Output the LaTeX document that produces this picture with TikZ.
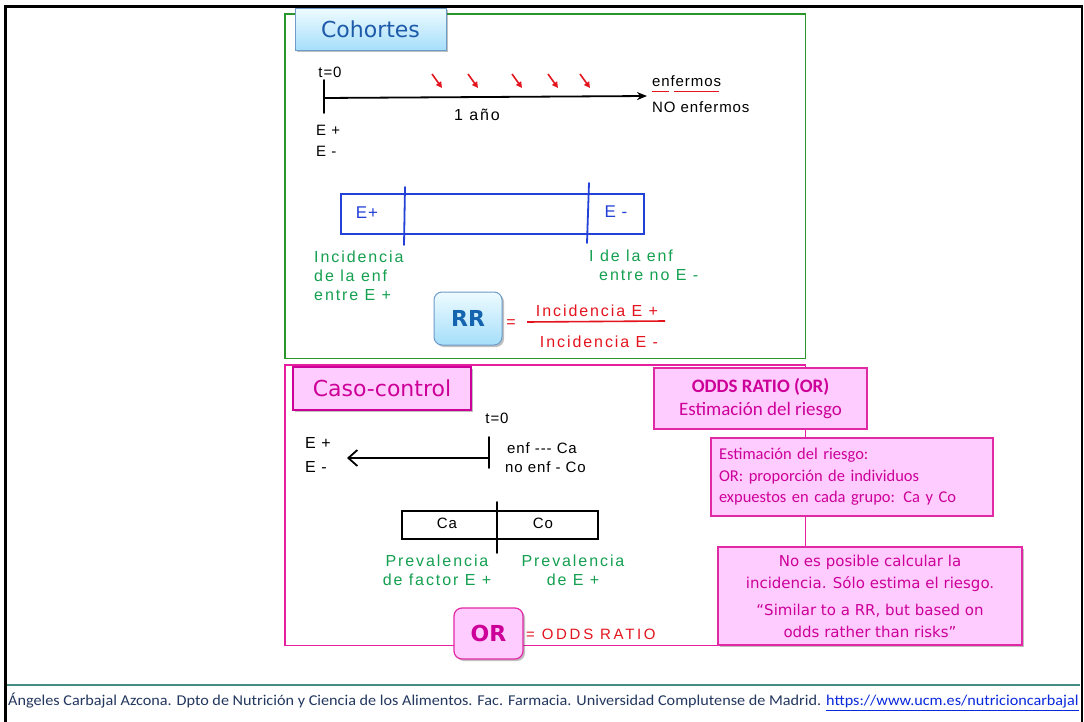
\documentclass[tikz,border=0pt]{standalone}
\usepackage{fontspec}
\setmainfont{Carlito}
\newfontfamily\comic{DejaVu Sans}
\newfontfamily\hand[LetterSpace=6]{Liberation Sans}
\newfontfamily\handg[LetterSpace=12]{Liberation Sans}
\newfontfamily\handw[LetterSpace=18]{Liberation Sans}
\usetikzlibrary{shadows,arrows.meta}
\definecolor{frgreen}{RGB}{40,150,40}
\definecolor{cobord}{RGB}{110,155,200}
\definecolor{cotext}{RGB}{30,90,170}
\definecolor{cotop}{RGB}{238,251,255}
\definecolor{cobot}{RGB}{165,222,250}
\definecolor{rrtext}{RGB}{20,100,175}
\definecolor{mag}{RGB}{204,0,153}
\definecolor{magline}{RGB}{225,40,165}
\definecolor{panelpink}{RGB}{230,30,160}
\definecolor{pinkfill}{RGB}{255,204,255}
\definecolor{hblue}{RGB}{35,65,215}
\definecolor{hgreen}{RGB}{20,160,80}
\definecolor{hred}{RGB}{228,20,30}
\definecolor{tealline}{RGB}{70,140,130}
\definecolor{foot}{RGB}{35,55,95}
\definecolor{linkc}{RGB}{10,40,220}
\begin{document}
\begin{tikzpicture}[x=1pt,y=-1pt,
  panel/.style={anchor=north west, inner sep=0pt},
  shad/.style={drop shadow={shadow xshift=2pt,shadow yshift=-2pt,opacity=0.35,fill=black!70}},
  bluebox/.style={draw=cobord, line width=1pt, top color=cotop, bottom color=cobot, shad, inner sep=0pt},
  pinkbox/.style={draw=magline, line width=1.2pt, fill=pinkfill, inner sep=0pt},
  hw/.style={font=\hand\fontsize{15}{17}\selectfont, inner sep=0pt},
  hwg/.style={inner sep=0pt, text=hgreen, font=\handg\fontsize{16}{19}\selectfont},
  hwr/.style={inner sep=0pt, text=hred, font=\handg\fontsize{16}{18}\selectfont},
  pen/.style={line width=1.8pt, line cap=round},
]
\useasboundingbox (0,0) rectangle (1084,722);
\fill[white] (0,0) rectangle (1084,722);
% outer frame
\draw[line width=3pt] (5.5,722) -- (5.5,6.5) -- (1082,6.5);
\draw[line width=2.5pt] (1081.8,5) -- (1081.8,722);
% footer
\coordinate (fl) at (7,685);
\coordinate (fr) at (1080,685);
\draw[tealline, line width=1.2pt] (fl) -- (fr);
\node[anchor=west, inner sep=0pt, text=foot, font=\fontsize{15}{17}\selectfont] (footer) at (8,702)
  {\scalebox{1.08}[1]{Ángeles Carbajal Azcona. Dpto de Nutrición y Ciencia de los Alimentos. Fac. Farmacia. Universidad Complutense de Madrid. \textcolor{linkc}{\underline{https://www.ucm.es/nutricioncarbajal}}}};

% ===== Cohortes panel =====
\node[panel, minimum width=520pt, minimum height=344pt] (cohpanel) at (285,14) {};
\draw[frgreen, line width=1.1pt] (cohpanel.north west) rectangle (cohpanel.south east);
\node[bluebox, minimum width=151pt, minimum height=42pt] (cohtitle) at (370.5,29.5)
  {\comic\fontsize{22}{24}\selectfont\textcolor{cotext}{Cohortes}};

% timeline
\node[hw] (t0a) at (330,72) {t=0};
\coordinate (tk1) at (324,80);
\coordinate (tk2) at (324,113);
\coordinate (tl0) at (324,98);
\coordinate (tl1) at (647,96);
\draw[pen] (tk1) -- (tk2);
\draw[pen, -{Stealth[length=10pt,width=8pt]}] (tl0) -- (tl1);
\foreach \x [count=\i] in {437,473,517,553,585}{
  \coordinate (ra\i) at (\x-5,74);
  \coordinate (rb\i) at (\x+5,88);
  \draw[hred, line width=1.6pt, -{Triangle[length=6pt,width=6pt]}] (ra\i) -- (rb\i);
}
\node[hw, anchor=west] (enf) at (652,81) {enfermos};
\draw[hred, line width=1.3pt] ([yshift=-5pt]enf.south west) -- ++(17,0);
\draw[hred, line width=1.3pt] ([xshift=22pt,yshift=-5pt]enf.south west) -- ++(45,0);
\node[hw, anchor=west] (noenf) at (652,107) {NO enfermos};
\node[hw, font=\handg\fontsize{16}{18}\selectfont] (anio) at (477,115) {1 año};
\node[hw, anchor=west] (ep1) at (316,130) {E +};
\node[hw, anchor=west] (em1) at (316,151) {E -};

% blue bar
\node[draw=hblue, line width=1.8pt, anchor=north west, minimum width=303pt, minimum height=40pt, inner sep=0pt] (bar1) at (340,193) {};
\coordinate (d1a) at (405,187); \coordinate (d1b) at (404,245);
\coordinate (d2a) at (589,183); \coordinate (d2b) at (587,243);
\draw[hblue, pen] (d1a) -- (d1b);
\draw[hblue, pen] (d2a) -- (d2b);
\node[hw, text=hblue, font=\hand\fontsize{17}{18}\selectfont] (bep) at (367,213) {E+};
\node[hw, text=hblue, font=\hand\fontsize{17}{18}\selectfont] (bem) at (616,212) {E -};

\node[hwg, anchor=north west, align=left] (incl) at (314,251) {Incidencia\\de la enf\\entre E +};
\node[hwg, anchor=north west, align=left] (incr) at (589,250) {I de la enf\\\hspace*{10pt}entre no E -};

% RR
\node[bluebox, rounded corners=8pt, minimum width=68pt, minimum height=53pt] (rr) at (468,318.5)
  {\comic\bfseries\fontsize{22}{24}\selectfont\textcolor{rrtext}{RR}};
\node[hwr] (eq1) at (511,324) {=};
\node[hwr] (num) at (597,311) {Incidencia E +};
\node[hwr] (den) at (599,342) {Incidencia E -};
\coordinate (fr1) at (527,322);
\coordinate (fr2) at (665,321);
\draw[hred, line width=1.6pt] (fr1) -- (fr2);

% ===== Caso-control panel =====
\node[panel, minimum width=520pt, minimum height=280pt] (ccpanel) at (285,365) {};
\draw[panelpink, line width=1.2pt] (ccpanel.north west) rectangle (ccpanel.south east);
\node[pinkbox, draw=mag, shad, minimum width=178pt, minimum height=43pt] (cctitle) at (382,388.5)
  {\comic\fontsize{22}{24}\selectfont\textcolor{mag}{Caso-control}};

\node[hw] (t0b) at (497,418) {t=0};
\coordinate (tk3) at (489,437);
\coordinate (tk4) at (489,468);
\coordinate (tl2) at (489,458);
\coordinate (tl3) at (347,458);
\draw[pen] (tk3) -- (tk4);
\draw[pen, -{Straight Barb[length=9pt,width=16pt]}] (tl2) -- (tl3);
\node[hw, anchor=west, font=\hand\fontsize{16}{18}\selectfont] (ep2) at (305,443) {E +};
\node[hw, anchor=west, font=\hand\fontsize{16}{18}\selectfont] (em2) at (305,467) {E -};
\node[hw, anchor=west] (enfca) at (507,448) {enf --- Ca};
\node[hw, anchor=west] (noenfco) at (505,467) {no enf - Co};

\node[draw, line width=1.6pt, anchor=north west, minimum width=196pt, minimum height=28pt, inner sep=0pt] (bar2) at (401,510) {};
\coordinate (d3a) at (497,502); \coordinate (d3b) at (497,553);
\draw[pen] (d3a) -- (d3b);
\node[hw] (ca) at (447,523) {Ca};
\node[hw] (co) at (543,523) {Co};
\node[hwg, align=center] (prevl) at (437,570) {Prevalencia\\de factor E +};
\node[hwg, align=center] (prevr) at (573,570) {Prevalencia\\de E +};

% OR
\node[pinkbox, rounded corners=8pt, shad, minimum width=69pt, minimum height=51pt] (orbox) at (488.5,633.5)
  {\comic\bfseries\fontsize{22}{24}\selectfont\textcolor{mag}{OR}};
\node[anchor=west, inner sep=0pt, text=hred, font=\handw\fontsize{15}{17}\selectfont] (oddsr) at (526,634) {= ODDS RATIO};

% right boxes
\node[pinkbox, minimum width=213pt, minimum height=61pt, align=center, text=mag,
  font=\fontsize{19}{23.5}\selectfont] (box1) at (760.5,398.5)
  {\textbf{ODDS RATIO (OR)}\\Estimación del riesgo};
\node[pinkbox, minimum width=282pt, minimum height=78pt, text width=266pt, inner sep=0pt, align=left, text=mag,
  font=\fontsize{16.5}{21.5}\selectfont] (box2) at (852,477)
  {Estimación del riesgo:\\OR: proporción de individuos\\expuestos en cada grupo: Ca y Co};
\node[pinkbox, shad, minimum width=304pt, minimum height=98pt, align=center, text=mag,
  font=\comic\fontsize{15}{22}\selectfont] (box3) at (870,596)
  {No es posible calcular la\\incidencia. Sólo estima el riesgo.\\[5pt]“Similar to a RR, but based on\\odds rather than risks”};
\end{tikzpicture}
\end{document}
